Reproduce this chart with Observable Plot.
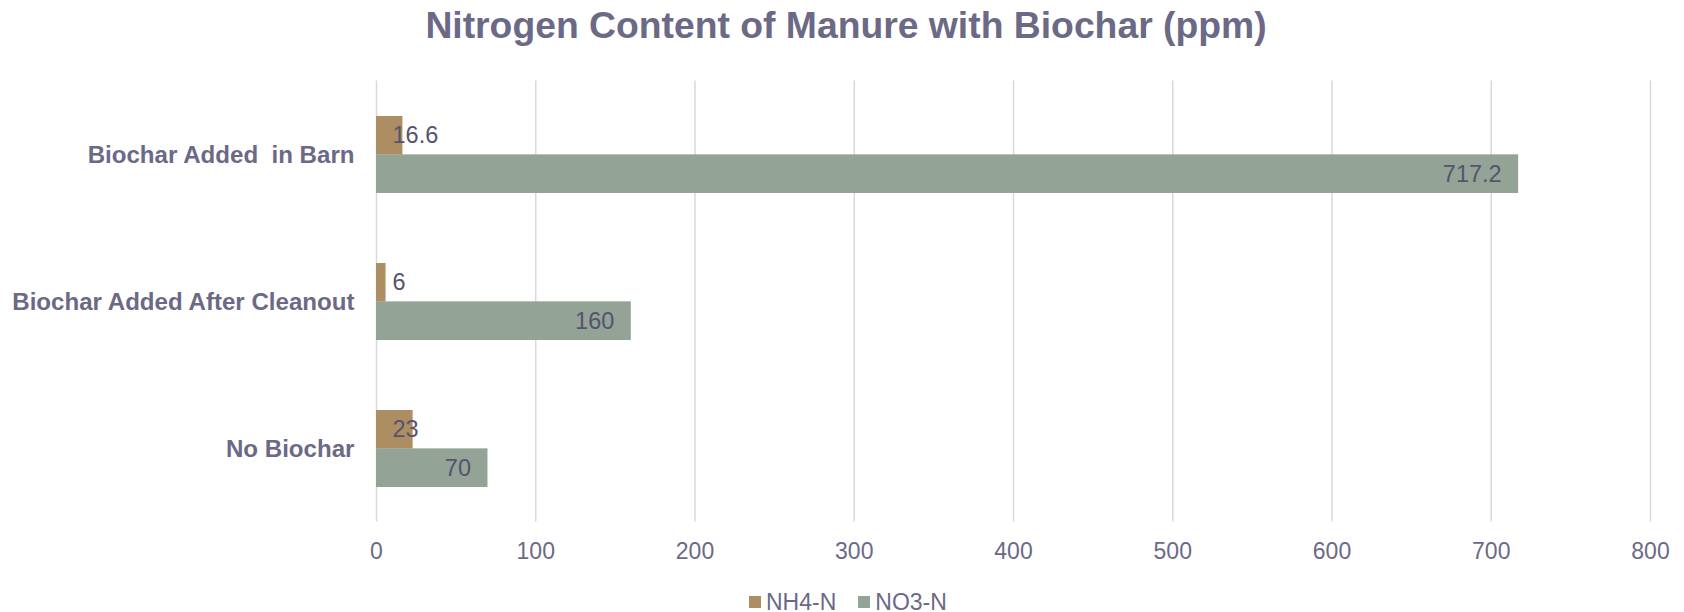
<!DOCTYPE html>
<html>
<head>
<meta charset="utf-8">
<script src="https://cdn.jsdelivr.net/npm/d3@7"></script>
<script src="https://cdn.jsdelivr.net/npm/@observablehq/plot@0.6"></script>
<style>
  html, body { margin: 0; padding: 0; background: #ffffff; }
  body { width: 1684px; height: 612px; position: relative; overflow: hidden; font-family: "Liberation Sans", Arial, sans-serif; }
  #title { position: absolute; left: 0; top: 7px; width: 1684px; text-align: center; padding-left: 8px; box-sizing: border-box;
           font-size: 37.3px; line-height: 37px; font-weight: bold; color: #6b6986; }
  #chart { position: absolute; left: 0; top: 60px; }
  #legend { position: absolute; left: 749px; top: 590px; display: flex; align-items: center; font-size: 23px; line-height: 24px; color: #6b6986; }
  .item { display: flex; align-items: center; margin-right: 22px; }
  .sw { width: 12px; height: 12px; margin-right: 5px; }
</style>
</head>
<body>
<div id="title">Nitrogen Content of Manure with Biochar (ppm)</div>
<div id="chart"></div>
<div id="legend"></div>
<script>
const categories = ["Biochar Added  in Barn", "Biochar Added After Cleanout", "No Biochar"];
const seriesNames = ["NH4-N", "NO3-N"];
const nh4Values = [16.6, 6, 23];
const no3Values = [717.2, 160, 70];
const xTicks = [0, 100, 200, 300, 400, 500, 600, 700, 800];
const colors = ["#ad8e62", "#93a396"];

const nh4 = categories.map((c, i) => ({category: c, series: seriesNames[0], value: nh4Values[i]}));
const no3 = categories.map((c, i) => ({category: c, series: seriesNames[1], value: no3Values[i]}));

const textColor = "#6b6986";
const labelColor = "#55536f";
const half = 38.35;

const chart = Plot.plot({
  width: 1684,
  height: 510,
  marginLeft: 376,
  marginRight: 34,
  marginTop: 20.5,
  marginBottom: 48.5,
  style: {fontFamily: "'Liberation Sans', Arial, sans-serif", background: "transparent"},
  x: {domain: [0, 800], ticks: xTicks},
  y: {domain: categories, paddingInner: 0.478, paddingOuter: 0.239, align: 0.5},
  color: {domain: seriesNames, range: colors},
  marks: [
    Plot.gridX(xTicks, {stroke: "#d9d9dd", strokeOpacity: 1, strokeWidth: 1.5}),
    Plot.barX(nh4, {x: "value", y: "category", fill: "series", insetBottom: half}),
    Plot.barX(no3, {x: "value", y: "category", fill: "series", insetTop: half}),
    Plot.text(nh4, {frameAnchor: "left", y: "category", text: d => String(d.value), textAnchor: "start", dx: 16, dy: -half / 2, fontSize: 23.5, fill: labelColor}),
    Plot.text(no3, {x: "value", y: "category", text: d => String(d.value), textAnchor: "end", dx: -17, dy: half / 2, fontSize: 23.5, fill: labelColor}),
    Plot.axisX({ticks: xTicks, tickSize: 0, tickPadding: 21, fontSize: 23, color: textColor, label: null}),
    Plot.axisY({tickSize: 0, tickPadding: 22, fontSize: 24.1, fontWeight: "bold", color: textColor, label: null})
  ]
});
document.getElementById("chart").appendChild(chart);

const legend = document.getElementById("legend");
seriesNames.forEach((name, i) => {
  const item = document.createElement("div");
  item.className = "item";
  const sw = document.createElement("div");
  sw.className = "sw";
  sw.style.background = colors[i];
  const t = document.createElement("span");
  t.textContent = name;
  item.appendChild(sw);
  item.appendChild(t);
  legend.appendChild(item);
});
</script>
</body>
</html>
